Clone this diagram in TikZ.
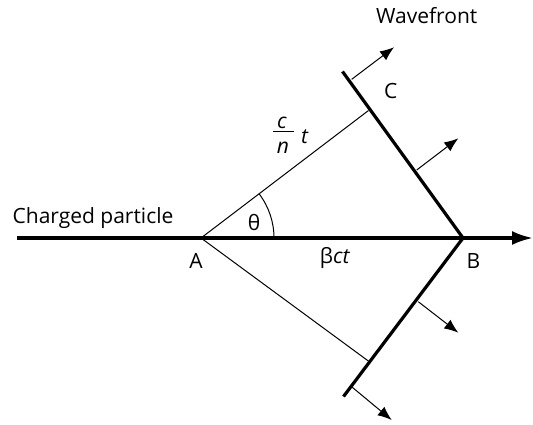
\documentclass[tikz,border=0pt]{standalone}
\usepackage{fontspec}
\setmainfont{Open Sans}
\usetikzlibrary{arrows.meta}
\begin{document}
\begin{tikzpicture}[x=1pt,y=-1pt,
  thickline/.style={line width=3.2pt},
  thinline/.style={line width=1pt},
  normarrow/.style={-{Latex[length=14pt,width=11pt]}, line width=1pt},
  lbl/.style={font=\fontsize{21}{25}\selectfont, inner sep=0pt, anchor=base}]
\useasboundingbox (0,0) rectangle (533,424);
% main geometry
\coordinate (S) at (17,238);
\coordinate (E) at (533,238);
\coordinate (A) at (201,238);
\coordinate (B) at (463,238);
\coordinate (C) at (368.5,110.5);
\coordinate (D) at (369,361.5);
\coordinate (U) at (342.5,71.5);
\coordinate (L) at (343.5,396.5);
% wavefront normal arrows
\coordinate (a1s) at (351.7,79.3);  \coordinate (a1e) at (394,47.3);
\coordinate (a2s) at (416.7,170);   \coordinate (a2e) at (458.3,138.3);
\coordinate (a3s) at (418.3,301.7); \coordinate (a3e) at (458.3,332.7);
\coordinate (a4s) at (352.3,387.3); \coordinate (a4e) at (391.7,420);
% fraction bar
\coordinate (f1) at (273,131.7);
\coordinate (f2) at (294,131.7);
\coordinate (R) at (274,238);

\draw[thinline] (A) -- (C);
\draw[thinline] (A) -- (D);
\draw[thinline] (R) arc[start angle=0, end angle=-37.4, radius=73];
\draw[thickline, -{Latex[length=21pt,width=14pt]}] (S) -- (E);
\draw[thickline] (U) -- (B) -- (L);
\draw[normarrow] (a1s) -- (a1e);
\draw[normarrow] (a2s) -- (a2e);
\draw[normarrow] (a3s) -- (a3e);
\draw[normarrow] (a4s) -- (a4e);
\draw[thinline] (f1) -- (f2);

\node[lbl] (wf) at (426.7,23.3) {Wavefront};
\node[lbl] (lc) at (390.7,98.3) {C};
\node[lbl] (th) at (254,230) {θ};
\node[lbl] (bct) at (335,263.5) {β\textit{ct}};
\node[lbl] (la) at (196,268.3) {A};
\node[lbl] (lb) at (473.3,268.3) {B};
\node[lbl] (cp) at (93,223.3) {Charged particle};
\node[lbl] (fc) at (282,128.3) {\textit{c}};
\node[lbl] (fn) at (283,153.3) {\textit{n}};
\node[lbl] (ft) at (305,143.3) {\textit{t}};
\end{tikzpicture}
\end{document}
